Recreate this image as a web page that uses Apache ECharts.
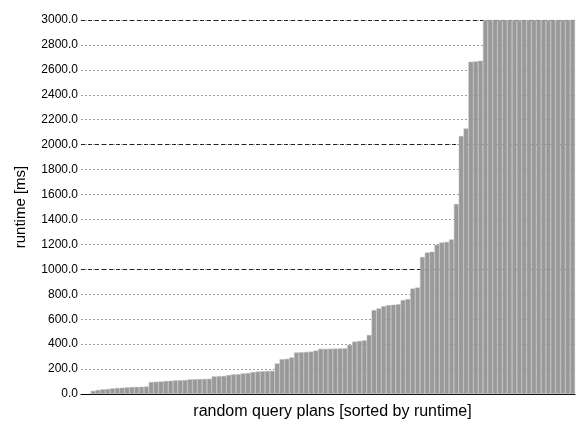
<!DOCTYPE html>
<html>
<head>
<meta charset="utf-8">
<script src="https://cdn.jsdelivr.net/npm/echarts@6/dist/echarts.min.js"></script>
<style>html,body{margin:0;padding:0;background:#fff}#c{width:577px;height:425px}</style>
</head>
<body>
<div id="c"></div>
<script>
// leading padding slots (empty) then 100 query plans sorted by runtime
const padSlots = ['', ''];
const plans = Array.from({length: 100}, (_, i) => 'plan ' + (i + 1));
const runtimes = [
  25, 32, 37, 40, 45, 48, 50, 53, 56, 57, 58, 60, 96, 98, 100, 104, 106, 109, 110, 112,
  117, 118, 120, 121, 122, 141, 143, 145, 152, 157, 159, 165, 168, 176, 180, 182, 184, 186, 245, 279,
  282, 293, 333, 335, 337, 340, 348, 362, 362, 363, 364, 365, 366, 394, 420, 425, 430, 473, 673, 686,
  705, 713, 716, 720, 753, 761, 846, 854, 1099, 1135, 1141, 1197, 1215, 1220, 1239, 1524, 2069, 2130, 2665, 2668,
  2673, 3000, 3000, 3000, 3000, 3000, 3000, 3000, 3000, 3000, 3000, 3000, 3000, 3000, 3000, 3000, 3000, 3000, 3000, 3000
];
const yMin = 0, yMax = 3000, minorStep = 200, majorStep = 1000;
const xTitle = 'random query plans [sorted by runtime]';
const yTitle = 'runtime [ms]';

const chart = echarts.init(document.getElementById('c'), null, {renderer: 'canvas'});
const font = '"Liberation Sans", Arial, sans-serif';
chart.setOption({
  animation: false,
  backgroundColor: '#fff',
  grid: {left: 81, right: 2, top: 20, bottom: 29, containLabel: false},
  xAxis: {
    type: 'category',
    data: padSlots.concat(plans),
    boundaryGap: true,
    axisLine: {show: true, lineStyle: {color: '#000', width: 1}},
    axisTick: {show: false},
    axisLabel: {show: false},
    splitLine: {show: false},
    name: xTitle,
    nameLocation: 'middle',
    nameGap: 10,
    nameTextStyle: {fontFamily: font, fontSize: 16, color: '#000', verticalAlign: 'top', padding: [0, 0, 0, 9]}
  },
  yAxis: [{
    type: 'value',
    min: yMin, max: yMax, interval: minorStep,
    axisLine: {show: false},
    axisTick: {show: false},
    axisLabel: {
      fontFamily: font, fontSize: 12, color: '#000', margin: 3,
      formatter: v => v.toFixed(1)
    },
    splitLine: {show: true, lineStyle: {color: '#a0a0a0', width: 1, type: [2, 2]}},
    name: yTitle,
    nameLocation: 'middle',
    nameGap: 53,
    nameTextStyle: {fontFamily: font, fontSize: 15, color: '#000'}
  }, {
    type: 'value',
    position: 'left',
    min: yMin, max: yMax, interval: majorStep,
    axisLine: {show: false},
    axisTick: {show: false},
    axisLabel: {show: false},
    splitLine: {show: true, lineStyle: {color: '#222', width: 1, type: [4, 3]}}
  }],
  series: [{
    type: 'bar',
    data: [null, null].concat(runtimes),
    barCategoryGap: '0%',
    itemStyle: {color: '#999999', borderColor: '#bababa', borderWidth: 0.5}
  }]
});
</script>
</body>
</html>
